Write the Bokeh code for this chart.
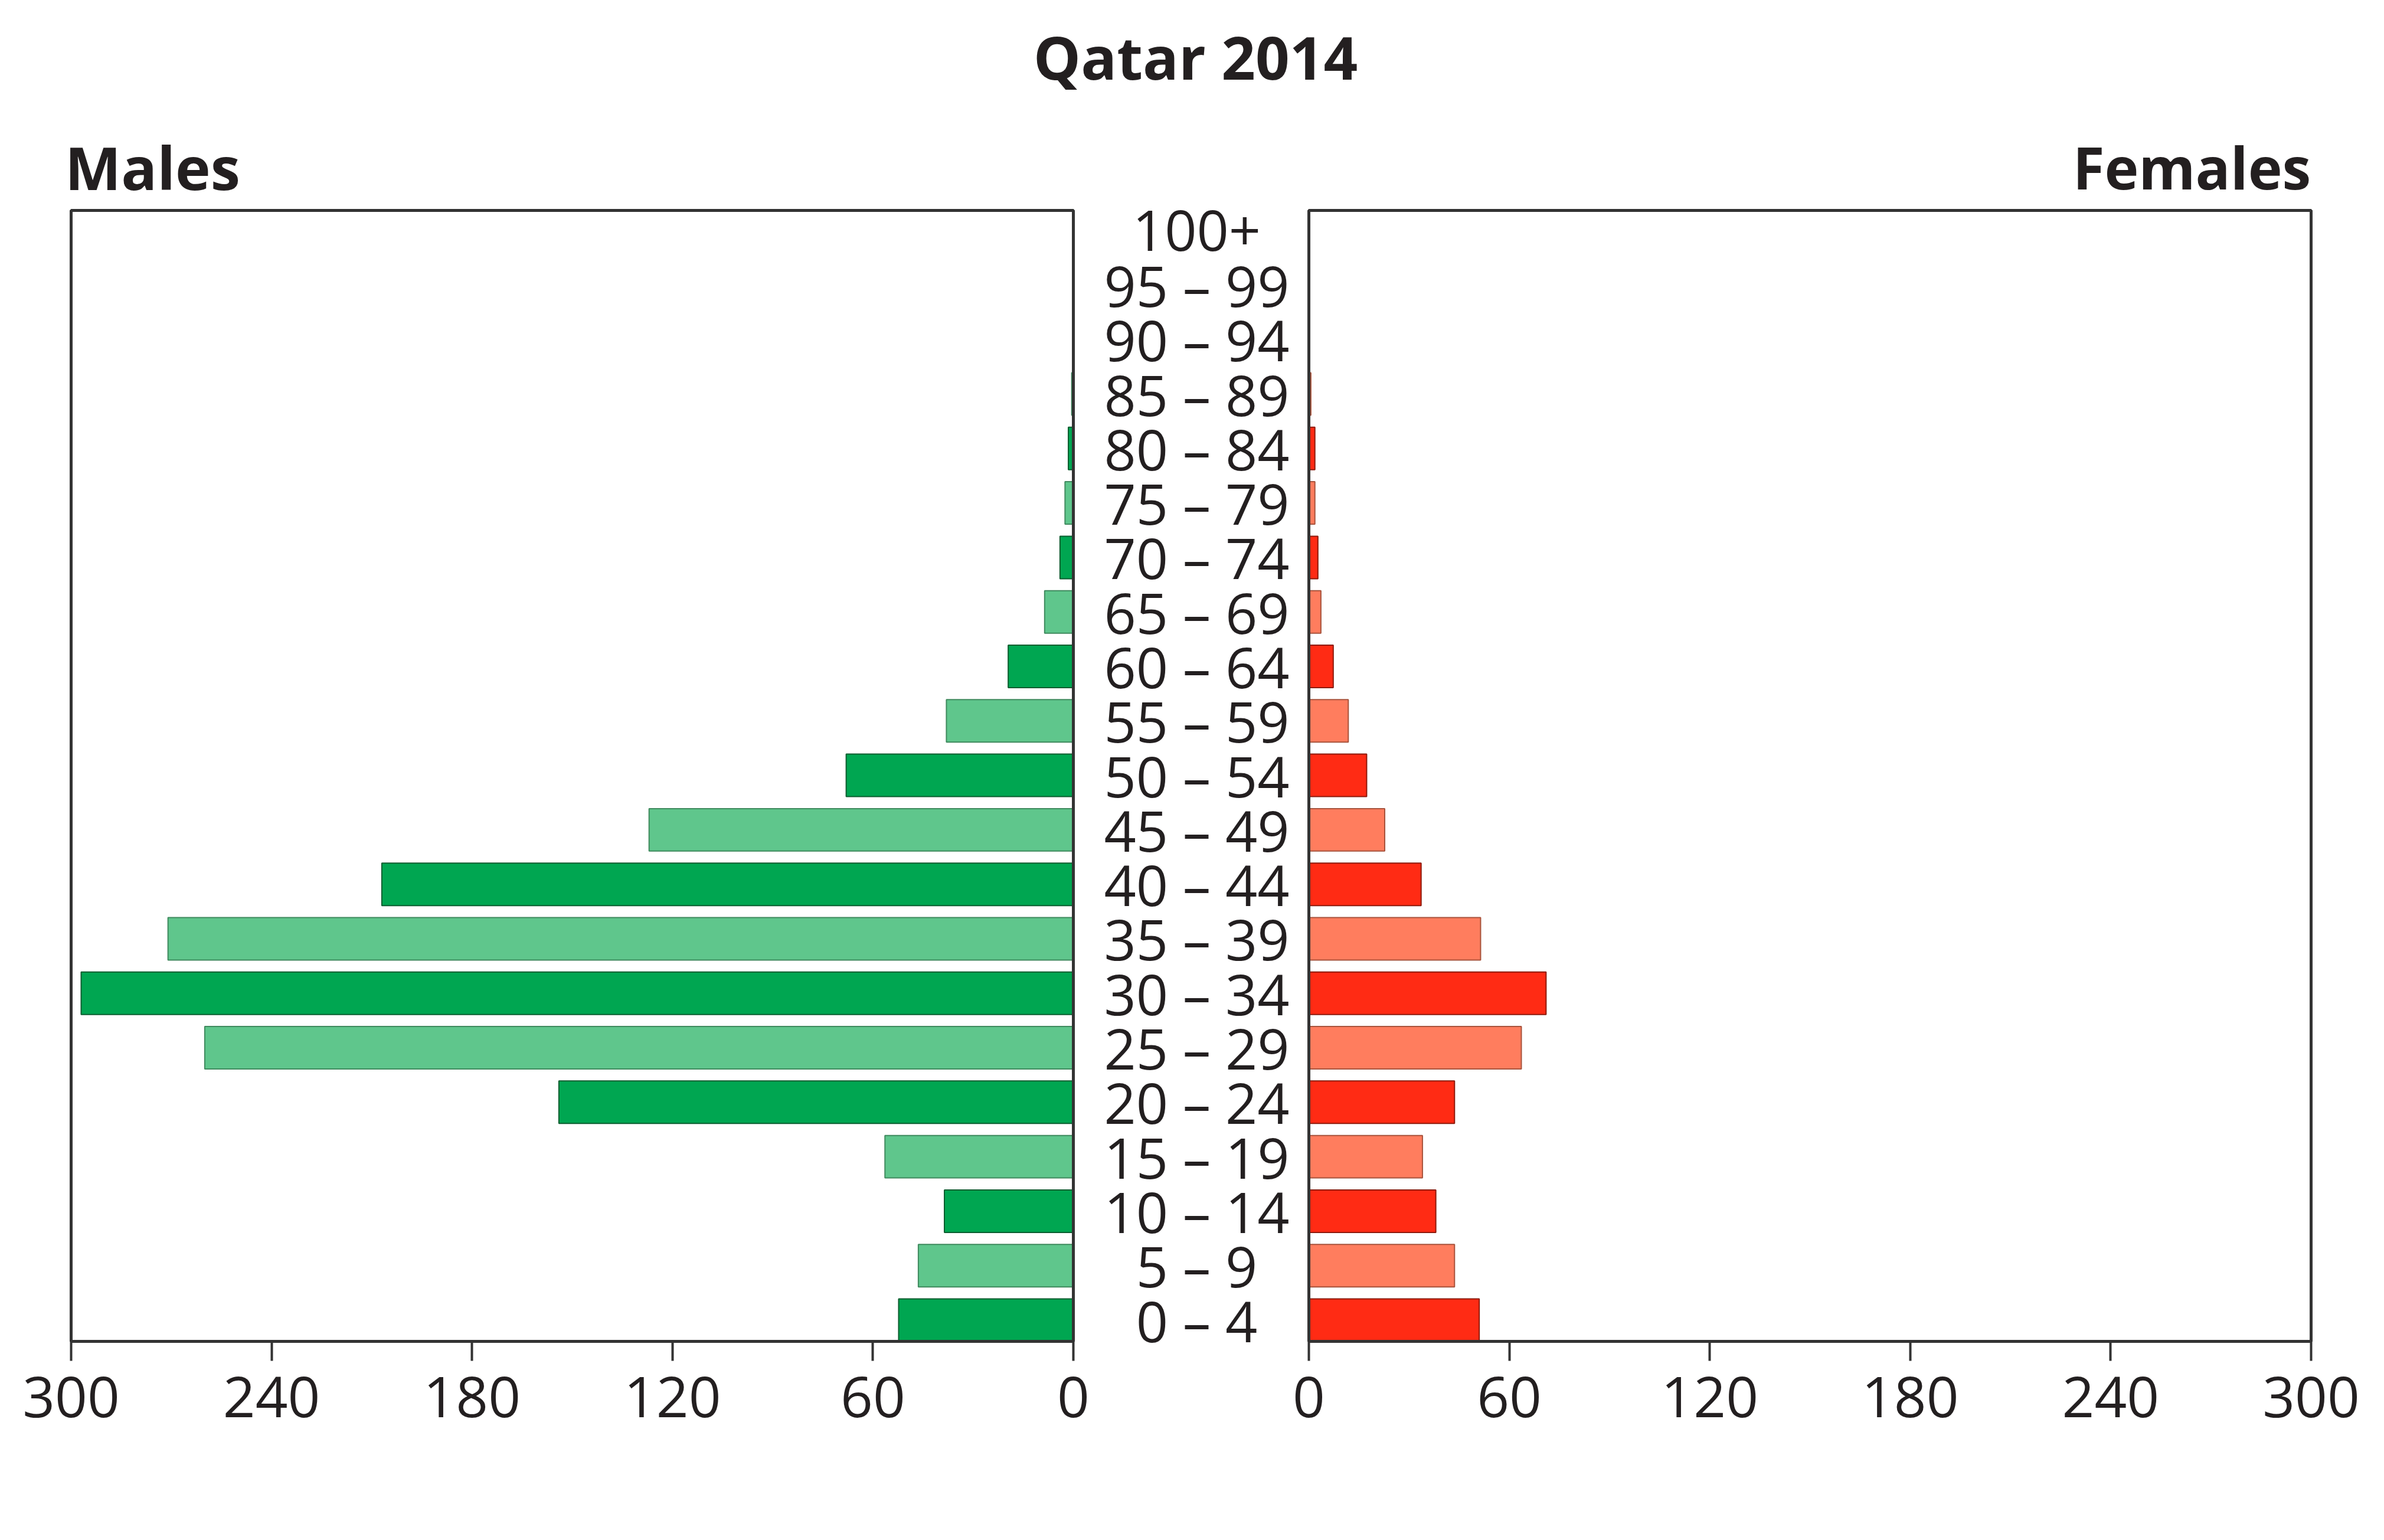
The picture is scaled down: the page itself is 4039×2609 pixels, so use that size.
from bokeh.plotting import figure
from bokeh.models import (Range1d, Label, FixedTicker, ColumnDataSource, LinearAxis,
                          CustomJSTickFormatter)
from bokeh.embed import file_html
from bokeh.resources import INLINE
from bokeh.core.properties import value

# ---------------- data ----------------
age_groups = ["0 \u2013 4", "5 \u2013 9", "10 \u2013 14", "15 \u2013 19", "20 \u2013 24",
              "25 \u2013 29", "30 \u2013 34", "35 \u2013 39", "40 \u2013 44", "45 \u2013 49",
              "50 \u2013 54", "55 \u2013 59", "60 \u2013 64", "65 \u2013 69", "70 \u2013 74",
              "75 \u2013 79", "80 \u2013 84", "85 \u2013 89", "90 \u2013 94", "95 \u2013 99", "100+"]
males = [52.3, 46.4, 38.6, 56.4, 154, 260, 297, 271, 207, 127, 68, 38, 19.5, 8.6, 4.0,
         2.5, 1.5, 0.5, 0.2, 0.1, 0.0]
females = [51.0, 43.6, 38.0, 34.0, 43.6, 63.6, 71.0, 51.4, 33.6, 22.7, 17.3, 11.8, 7.3, 3.6,
           2.7, 1.8, 1.8, 0.6, 0.2, 0.1, 0.0]
x_ticks = [0, 60, 120, 180, 240, 300]
title_text = "Qatar 2014"
left_heading = "Males"
right_heading = "Females"
x_label = "Population (thousands)"
mid_label = "Age group"

# ---------------- style / geometry (canvas pixels) ----------------
# note: font sizes such as "100px" are avoided (parsed as a font weight by the svg backend)
FONT = "Open Sans"
TXT = "#231f20"
FRAME = "#333333"
M_DARK, M_LIGHT = "#00a651", "#5fc68c"
M_DARK_LINE, M_LIGHT_LINE = "#0b5e30", "#3f8a5e"
F_DARK, F_LIGHT = "#ff2b14", "#ff7d5e"
F_DARK_LINE, F_LIGHT_LINE = "#8e1a0c", "#a8533c"

W, H = 4031, 2601
PANEL_L, PANEL_T, PANEL_B = 120, 356, 2272     # male panel left edge, panel top/bottom
ZM, ZF = 1818, 2217                            # zero lines of males / females
XMAX = x_ticks[-1]
PXU = (ZM - PANEL_L) / XMAX                    # pixels per thousand
FR_L, FR_R, FR_T, FR_B = 108, 3927, 0, PANEL_B + 3   # plotting frame
PAD_TOP, PAD_BOT = 0.37, 0.39                  # row-units above top row / below bottom row
n = len(age_groups)
PXY = (PANEL_B - PANEL_T) / (n - 1 + PAD_TOP + PAD_BOT)
Y0 = -PAD_BOT - (FR_B - PANEL_B) / PXY
Y1 = Y0 + (FR_B - FR_T) / PXY


def ypx(cy):
    """canvas-pixel y -> y-range value"""
    return Y0 + (FR_B - cy) / PXY


idx = list(range(n))
dark = [i % 2 == 0 for i in idx]
src = ColumnDataSource(dict(
    y=idx, age=age_groups, m=males, f=females,
    mfill=[M_DARK if d else M_LIGHT for d in dark],
    mline=[M_DARK_LINE if d else M_LIGHT_LINE for d in dark],
    ffill=[F_DARK if d else F_LIGHT for d in dark],
    fline=[F_DARK_LINE if d else F_LIGHT_LINE for d in dark],
))

p = figure(width=W, height=H, x_range=Range1d(FR_L, FR_R), y_range=Range1d(Y0, Y1),
           output_backend="svg", toolbar_location=None,
           x_axis_location=None, y_axis_location=None,
           min_border_left=FR_L, min_border_right=W - FR_R,
           min_border_top=FR_T, min_border_bottom=H - FR_B)
p.grid.visible = False
p.outline_line_color = None
p.background_fill_color = "white"
p.border_fill_color = "white"

p.extra_x_ranges = {
    "males": Range1d((ZM - FR_L) / PXU, (ZM - FR_R) / PXU),
    "females": Range1d((FR_L - ZF) / PXU, (FR_R - ZF) / PXU),
}

# bars
p.hbar(y="y", left=0, right="m", height=0.78, fill_color="mfill", line_color="mline",
       line_width=2, source=src, x_range_name="males")
p.hbar(y="y", left=0, right="f", height=0.78, fill_color="ffill", line_color="fline",
       line_width=2, source=src, x_range_name="females")

# panel frames
for rn in ("males", "females"):
    p.quad(left=0, right=XMAX, bottom=-PAD_BOT, top=n - 1 + PAD_TOP, x_range_name=rn,
           fill_color=None, line_color=FRAME, line_width=5)

# age-group labels
p.text(x=2027, y="y", text="age", source=src, text_align="center", text_baseline="middle",
       text_font=value(FONT), text_font_size="95px", text_color=TXT)


def put_text(x, cy, text, size, bold=False):
    p.text(x=x, y=ypx(cy), text=[text], text_align="center", text_baseline="middle",
           text_font=value(FONT), text_font_size=size,
           text_font_style="bold" if bold else "normal", text_color=TXT)


put_text(2025, 95, title_text, "101px", bold=True)
put_text(258, 282, left_heading, "101px", bold=True)
put_text(3713, 282, right_heading, "98px", bold=True)

# one bottom axis on the males scale carrying both panels' ticks
gap = (ZF - ZM) / PXU
ticks = list(x_ticks) + [-gap - v for v in x_ticks]
ax = LinearAxis(x_range_name="males", ticker=FixedTicker(ticks=ticks),
                formatter=CustomJSTickFormatter(args=dict(gap=gap), code="""
                    const v = tick >= -1e-6 ? tick : -(tick + gap);
                    return Math.round(v).toString();
                """))
ax.axis_line_color = None
ax.major_tick_in = 3
ax.major_tick_out = 30
ax.major_tick_line_width = 4
ax.major_tick_line_color = FRAME
ax.minor_tick_line_color = None
ax.major_label_text_font = FONT
ax.major_label_text_font_size = "96px"
ax.major_label_text_color = TXT
ax.major_label_standoff = 26
p.add_layout(ax, "below")

# axis titles below the frame
for x, text in ((583, x_label), (2030, mid_label), (3481, x_label)):
    p.add_layout(Label(x=x, y=ypx(2592), text=text, text_align="center",
                       text_baseline="alphabetic", text_font=FONT, text_font_size="102px",
                       text_color=TXT))

open("out.html", "w").write(file_html(p, INLINE))
